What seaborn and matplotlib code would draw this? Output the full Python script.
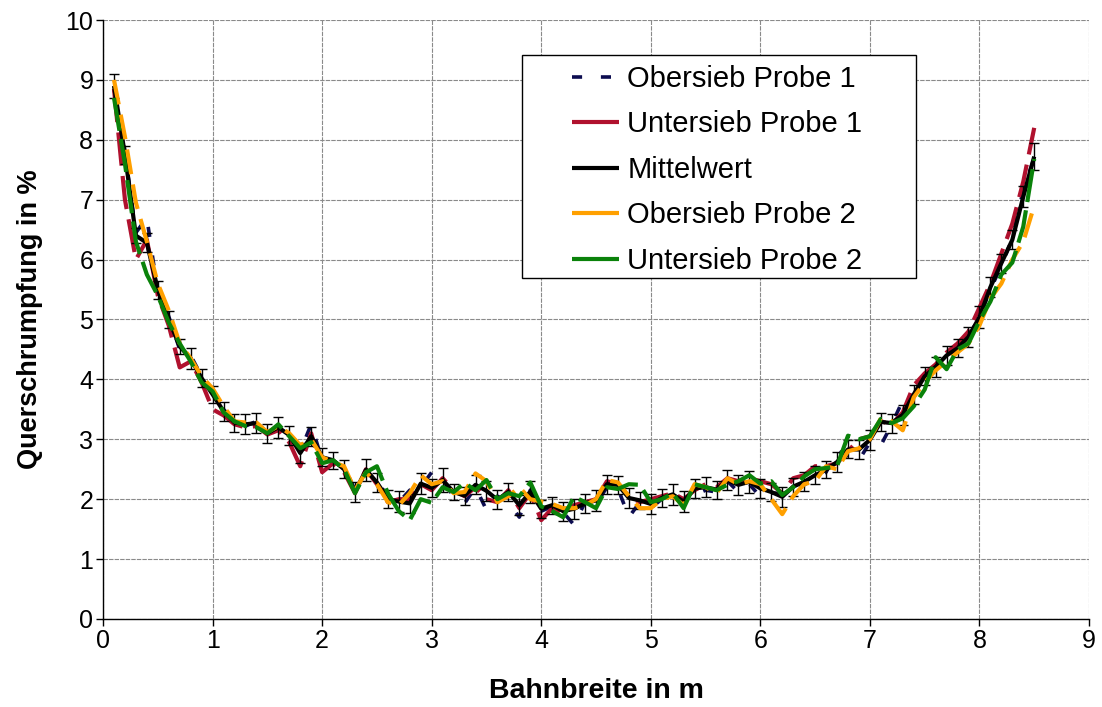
import numpy as np
import pandas as pd
import matplotlib
matplotlib.use("Agg")
import matplotlib.pyplot as plt
import seaborn as sns
from matplotlib.lines import Line2D
from matplotlib.patches import Rectangle

# Positions across the web width (m), one reading every 0.1 m
bahnbreite = np.round(np.arange(1, 86) * 0.1, 1)

mittelwert = [
    8.90, 7.75, 6.40, 6.28, 5.50, 5.00, 4.55, 4.35, 4.02, 3.75,
    3.47, 3.28, 3.25, 3.27, 3.10, 3.20, 3.07, 2.77, 3.05, 2.70,
    2.65, 2.50, 2.12, 2.49, 2.28, 2.00, 1.96, 1.93, 2.26, 2.19,
    2.32, 2.12, 2.06, 2.24, 2.14, 1.99, 2.12, 1.90, 2.12, 1.84,
    1.90, 1.80, 1.84, 1.93, 1.98, 2.25, 2.24, 2.02, 1.98, 1.92,
    2.02, 2.08, 1.96, 2.18, 2.20, 2.16, 2.32, 2.24, 2.29, 2.18,
    2.12, 2.04, 2.21, 2.29, 2.40, 2.49, 2.62, 2.83, 2.83, 2.99,
    3.29, 3.27, 3.41, 3.75, 4.05, 4.21, 4.40, 4.52, 4.71, 5.04,
    5.54, 5.94, 6.33, 7.05, 7.72,
]

fehler = [
    0.20, 0.15, 0.12, 0.16, 0.15, 0.14, 0.13, 0.18, 0.15, 0.14,
    0.16, 0.15, 0.17, 0.17, 0.16, 0.18, 0.16, 0.17, 0.16, 0.15,
    0.14, 0.15, 0.17, 0.18, 0.16, 0.15, 0.17, 0.16, 0.18, 0.15,
    0.20, 0.14, 0.15, 0.16, 0.17, 0.16, 0.15, 0.17, 0.18, 0.15,
    0.14, 0.16, 0.17, 0.16, 0.18, 0.16, 0.15, 0.17, 0.14, 0.16,
    0.15, 0.17, 0.18, 0.16, 0.17, 0.15, 0.16, 0.17, 0.18, 0.16,
    0.15, 0.17, 0.15, 0.16, 0.15, 0.14, 0.16, 0.15, 0.16, 0.17,
    0.15, 0.16, 0.17, 0.16, 0.15, 0.17, 0.16, 0.15, 0.17, 0.18,
    0.17, 0.16, 0.16, 0.18, 0.22,
]

obersieb_1 = [
    8.85, 7.80, 6.45, 6.70, 5.45, 5.05, 4.50, 4.40, 4.05, 3.80,
    3.50, 3.30, 3.22, 3.30, 3.12, 3.18, 3.05, 2.80, 3.25, 2.65,
    2.62, 2.55, 2.15, 2.45, 2.30, 2.05, 1.95, 2.15, 2.20, 2.45,
    2.30, 2.05, 1.93, 2.20, 1.82, 2.05, 1.95, 1.70, 2.15, 1.80,
    1.88, 1.78, 1.57, 1.95, 1.92, 2.20, 2.18, 1.70, 1.95, 1.85,
    2.00, 2.05, 1.95, 2.07, 2.15, 2.12, 2.30, 2.12, 2.25, 2.04,
    2.10, 2.10, 2.20, 2.24, 2.35, 2.45, 2.82, 2.70, 2.65, 2.95,
    2.90, 3.25, 3.65, 3.70, 4.05, 4.20, 4.40, 4.50, 4.70, 5.05,
    5.50, 5.90, 6.35, 7.16, 7.70,
]

untersieb_1 = [
    8.85, 7.00, 6.00, 6.33, 5.40, 4.90, 4.20, 4.30, 3.95, 3.50,
    3.40, 3.25, 3.20, 3.22, 3.08, 3.15, 2.95, 2.55, 3.10, 2.45,
    2.60, 2.45, 2.10, 2.50, 2.25, 1.95, 2.00, 2.00, 2.25, 2.15,
    2.35, 2.15, 2.05, 2.20, 2.00, 1.95, 2.15, 1.85, 2.10, 1.65,
    1.85, 1.75, 1.90, 1.95, 2.00, 2.30, 2.25, 2.05, 1.95, 2.00,
    2.05, 2.10, 2.00, 2.15, 2.25, 2.20, 2.35, 2.30, 2.35, 2.30,
    2.25, 2.10, 2.35, 2.40, 2.55, 2.55, 2.60, 2.80, 3.00, 3.05,
    3.30, 3.25, 3.45, 3.90, 4.10, 4.25, 4.45, 4.60, 4.80, 5.20,
    5.60, 6.10, 6.60, 7.30, 8.20,
]

obersieb_2 = [
    9.00, 8.05, 6.95, 6.30, 5.60, 5.15, 4.60, 4.35, 4.05, 3.85,
    3.55, 3.30, 3.28, 3.28, 3.12, 3.22, 3.10, 2.90, 3.00, 2.70,
    2.62, 2.55, 2.15, 2.45, 2.25, 1.95, 1.90, 2.10, 2.40, 2.25,
    2.30, 2.10, 2.12, 2.43, 2.30, 1.95, 2.05, 2.20, 2.00, 1.96,
    1.92, 1.85, 1.85, 1.90, 2.00, 2.32, 2.28, 2.05, 1.85, 1.85,
    2.00, 2.05, 1.90, 2.25, 2.20, 2.10, 2.35, 2.25, 2.30, 2.25,
    2.00, 1.75, 2.05, 2.25, 2.30, 2.55, 2.50, 2.80, 2.85, 3.00,
    3.35, 3.30, 3.15, 3.70, 3.95, 4.15, 4.30, 4.45, 4.60, 4.90,
    5.35, 5.60, 6.00, 6.30, 6.90,
]

untersieb_2 = [
    8.70, 7.60, 6.30, 5.75, 5.40, 4.95, 4.60, 4.30, 3.95, 3.80,
    3.45, 3.30, 3.22, 3.20, 3.10, 3.25, 3.05, 2.85, 2.95, 2.60,
    2.65, 2.50, 2.10, 2.45, 2.55, 2.10, 1.80, 1.65, 2.00, 1.94,
    2.20, 2.12, 2.27, 2.15, 2.32, 2.00, 2.10, 2.05, 2.28, 1.88,
    1.80, 1.70, 2.04, 1.95, 1.85, 2.20, 2.17, 2.25, 2.24, 1.95,
    2.00, 2.10, 1.85, 2.25, 2.20, 2.15, 2.24, 2.30, 2.40, 2.26,
    2.30, 2.07, 2.20, 2.38, 2.50, 2.52, 2.55, 3.06, 3.00, 3.05,
    3.34, 3.27, 3.35, 3.55, 3.83, 4.37, 4.17, 4.50, 4.60, 4.98,
    5.30, 5.75, 5.95, 6.55, 7.68,
]

reihen = ["Obersieb Probe 1", "Untersieb Probe 1", "Mittelwert",
          "Obersieb Probe 2", "Untersieb Probe 2"]
werte = [obersieb_1, untersieb_1, mittelwert, obersieb_2, untersieb_2]

df = pd.concat(
    [pd.DataFrame({"Bahnbreite": bahnbreite, "Querschrumpfung": w, "Reihe": r})
     for r, w in zip(reihen, werte)],
    ignore_index=True,
)

farben = {
    "Obersieb Probe 1": "#0c0c50",
    "Untersieb Probe 1": "#b0112e",
    "Mittelwert": "#000000",
    "Obersieb Probe 2": "#ffa000",
    "Untersieb Probe 2": "#0a820a",
}
linien = {
    "Obersieb Probe 1": (0, (2.8, 5.2)),
    "Untersieb Probe 1": (0, (8, 2.5)),
    "Mittelwert": "-",
    "Obersieb Probe 2": (0, (6, 2.5)),
    "Untersieb Probe 2": (0, (8, 2)),
}
breiten = {
    "Obersieb Probe 1": 2.6,
    "Untersieb Probe 1": 3.0,
    "Mittelwert": 3.0,
    "Obersieb Probe 2": 3.0,
    "Untersieb Probe 2": 3.0,
}

sns.set_style("white")
plt.rcParams["font.family"] = ["Liberation Sans", "DejaVu Sans"]
plt.rcParams["text.color"] = "black"
plt.rcParams["axes.labelcolor"] = "black"
plt.rcParams["xtick.color"] = "black"
plt.rcParams["ytick.color"] = "black"

fig = plt.figure(figsize=(11.02, 7.07), dpi=100)
ax = fig.add_axes([0.0935, 0.1245, 0.8947, 0.8472])

for i, reihe in enumerate(reihen):
    teil = df[df["Reihe"] == reihe]
    sns.lineplot(
        data=teil, x="Bahnbreite", y="Querschrumpfung", ax=ax,
        color=farben[reihe], linewidth=breiten[reihe],
        linestyle=linien[reihe], errorbar=None, zorder=3 + i,
        solid_capstyle="butt", dash_capstyle="butt",
    )
    if reihe == "Mittelwert":
        ax.errorbar(bahnbreite, mittelwert, yerr=fehler, fmt="none",
                    ecolor="black", elinewidth=1.0, capsize=3.5,
                    capthick=1.0, zorder=3 + i)

ax.set_xlim(0, 9)
ax.set_ylim(0, 10)
ax.set_xticks(range(0, 10))
ax.set_yticks(range(0, 11))
ax.set_axisbelow(True)
ax.grid(True, color="#8a8a8a", linewidth=0.8, linestyle=(0, (4, 1)))

for s in ("top", "right"):
    ax.spines[s].set_visible(False)
for s in ("left", "bottom"):
    ax.spines[s].set_color("black")
    ax.spines[s].set_linewidth(1.0)

ax.tick_params(axis="both", direction="out", length=5, width=1,
               colors="black", labelsize=18, bottom=True, left=True, pad=2)

ax.set_xlabel("Bahnbreite in m", fontsize=20.5, fontweight="bold", labelpad=18)
ax.set_ylabel("Querschrumpfung in %", fontsize=19.5, fontweight="bold", labelpad=16)

# Legend box drawn as its own patch so the inner margins can be set freely
rahmen = Rectangle((0.4249, 0.5693), 0.3996, 0.3723, transform=ax.transAxes,
                   facecolor="white", edgecolor="black", linewidth=1.0,
                   zorder=19)
ax.add_patch(rahmen)

griffe = [
    Line2D([], [], color=farben[r], linewidth=breiten[r],
           linestyle=(0, (2.8, 5.2)) if r == "Obersieb Probe 1" else "-",
           solid_capstyle="butt", dash_capstyle="butt")
    for r in reihen
]
leg = ax.legend(
    griffe, reihen, loc="upper left", bbox_to_anchor=(0.4757, 0.925),
    frameon=False, fontsize=21, handlelength=1.6, handletextpad=0.3,
    borderpad=0, labelspacing=0.6, borderaxespad=0,
)
leg.set_zorder(20)

fig.savefig("out.png", dpi=100, facecolor="white")
